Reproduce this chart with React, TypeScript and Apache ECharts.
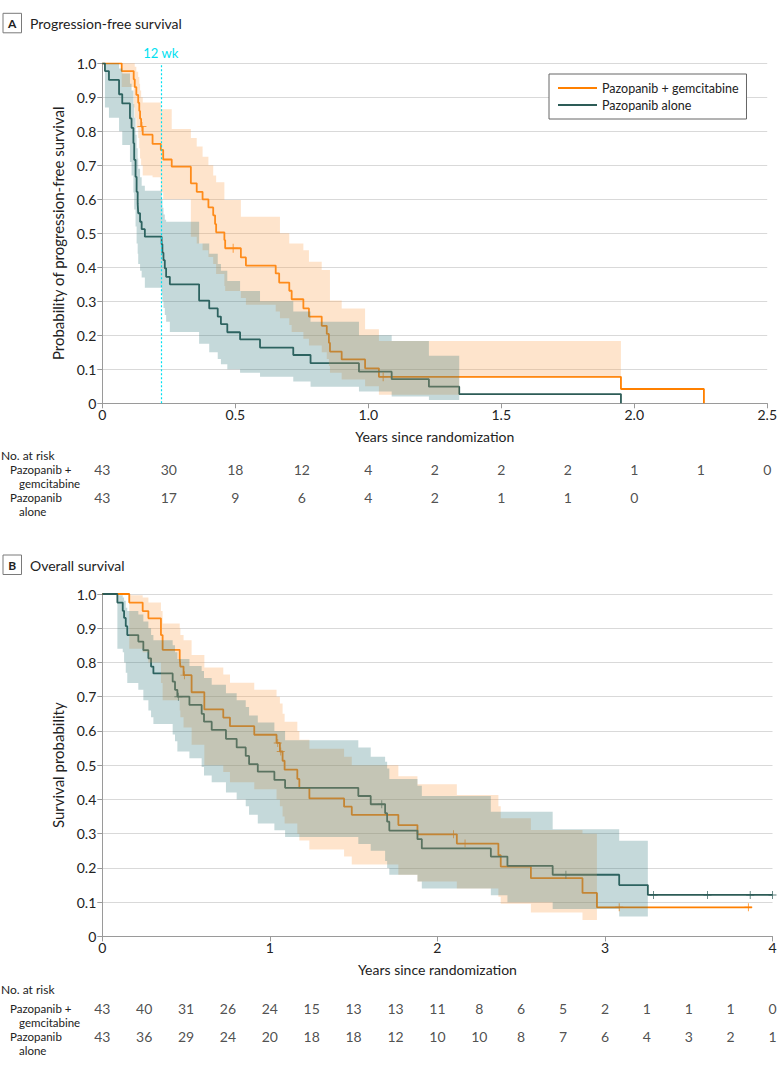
import React, { useEffect, useRef } from 'react';
import * as echarts from 'echarts';

const FONT = 'Lato, "Liberation Sans", sans-serif';
const ORANGE = '#ff8000';
const TEAL = '#2d5c57';
const ORANGE_BAND = 'rgba(252,165,85,0.30)';
const TEAL_BAND = 'rgba(48,119,123,0.28)';
const CYAN = '#00e0f0';
const TEXT = '#222222';
const AXIS = '#9a9a9a';
const GRIDLINE = '#d9d9d9';

const NAME_COMBO = 'Pazopanib + gemcitabine';
const NAME_ALONE = 'Pazopanib alone';
const WEEK12 = 0.222;

// ---------- Panel A: progression-free survival (years, survival) ----------
const pfsComboSteps = [
  [0, 1], [0.073, 0.977], [0.118, 0.953], [0.122, 0.93], [0.128, 0.907], [0.135, 0.884],
  [0.139, 0.86], [0.142, 0.837], [0.146, 0.814], [0.152, 0.79], [0.189, 0.763], [0.22, 0.745],
  [0.229, 0.717], [0.261, 0.696], [0.333, 0.647], [0.355, 0.622], [0.377, 0.6], [0.399, 0.576],
  [0.417, 0.553], [0.424, 0.527], [0.428, 0.503], [0.459, 0.48], [0.462, 0.456], [0.521, 0.429],
  [0.54, 0.405], [0.652, 0.382], [0.665, 0.355], [0.703, 0.331], [0.712, 0.306], [0.756, 0.279],
  [0.777, 0.255], [0.825, 0.228], [0.844, 0.204], [0.852, 0.178], [0.856, 0.152], [0.9, 0.129],
  [0.988, 0.103], [1.04, 0.078], [1.95, 0.042], [2.262, 0],
];
const pfsComboCensor = [0.149, 0.492, 1.056];

const pfsAloneSteps = [
  [0, 1], [0.01, 0.977], [0.025, 0.951], [0.063, 0.909], [0.075, 0.882], [0.104, 0.838],
  [0.11, 0.81], [0.117, 0.765], [0.12, 0.716], [0.125, 0.666], [0.129, 0.622], [0.133, 0.588],
  [0.135, 0.559], [0.142, 0.534], [0.148, 0.512], [0.16, 0.49], [0.223, 0.468], [0.226, 0.443],
  [0.23, 0.421], [0.235, 0.397], [0.24, 0.372], [0.254, 0.35], [0.364, 0.302], [0.402, 0.279],
  [0.434, 0.255], [0.446, 0.233], [0.47, 0.209], [0.518, 0.188], [0.593, 0.164], [0.718, 0.142],
  [0.783, 0.118], [0.965, 0.093], [1.088, 0.071], [1.228, 0.049], [1.342, 0.027], [1.95, 0],
];
const pfsAloneCensor: number[] = [];

// confidence bands: [start, lower, upper]
const pfsComboBand = [
  [0, 1, 1], [0.073, 0.93, 1.0], [0.118, 0.87, 1.0], [0.122, 0.84, 0.99], [0.128, 0.81, 0.975],
  [0.135, 0.78, 0.96], [0.139, 0.75, 0.94], [0.142, 0.72, 0.92], [0.146, 0.7, 0.9],
  [0.152, 0.67, 0.885], [0.189, 0.665, 0.885], [0.22, 0.62, 0.865], [0.229, 0.6, 0.865],
  [0.261, 0.6, 0.807], [0.333, 0.49, 0.78], [0.355, 0.47, 0.755], [0.377, 0.45, 0.725],
  [0.399, 0.43, 0.7], [0.417, 0.41, 0.67], [0.428, 0.38, 0.65], [0.459, 0.345, 0.598],
  [0.462, 0.33, 0.598], [0.521, 0.31, 0.549], [0.54, 0.29, 0.549], [0.652, 0.27, 0.549],
  [0.668, 0.25, 0.5], [0.703, 0.23, 0.47], [0.712, 0.21, 0.47], [0.756, 0.19, 0.45],
  [0.777, 0.17, 0.416], [0.825, 0.15, 0.392], [0.844, 0.13, 0.392], [0.852, 0.11, 0.392],
  [0.856, 0.09, 0.302], [0.9, 0.07, 0.279], [0.988, 0.05, 0.218], [1.04, 0.025, 0.183],
  [1.342, 0.078, 0.183],
];
const pfsComboBandEnd = 1.95;

const pfsAloneBand = [
  [0, 1, 1], [0.01, 0.87, 1.0], [0.025, 0.84, 1.0], [0.063, 0.8, 0.985], [0.075, 0.76, 0.97],
  [0.104, 0.71, 0.94], [0.11, 0.67, 0.92], [0.117, 0.62, 0.88], [0.12, 0.57, 0.84],
  [0.125, 0.52, 0.79], [0.129, 0.47, 0.75], [0.133, 0.44, 0.72], [0.135, 0.41, 0.69],
  [0.142, 0.39, 0.665], [0.148, 0.37, 0.64], [0.16, 0.34, 0.625], [0.223, 0.32, 0.6],
  [0.226, 0.3, 0.575], [0.23, 0.28, 0.555], [0.235, 0.26, 0.54], [0.24, 0.24, 0.534],
  [0.254, 0.21, 0.534], [0.364, 0.175, 0.47], [0.402, 0.15, 0.44], [0.434, 0.13, 0.41],
  [0.446, 0.115, 0.39], [0.47, 0.1, 0.36], [0.518, 0.09, 0.33], [0.593, 0.078, 0.3],
  [0.718, 0.064, 0.27], [0.783, 0.049, 0.24], [0.965, 0.035, 0.2], [1.088, 0.02, 0.183],
  [1.228, 0.01, 0.14],
];
const pfsAloneBandEnd = 1.342;

const riskTimesA = [0, 0.25, 0.5, 0.75, 1.0, 1.25, 1.5, 1.75, 2.0, 2.25, 2.5];
const riskComboA = [43, 30, 18, 12, 4, 2, 2, 2, 1, 1, 0];
const riskAloneA = [43, 17, 9, 6, 4, 2, 1, 1, 0];

// ---------- Panel B: overall survival ----------
const osComboSteps = [
  [0, 1], [0.161, 0.975], [0.241, 0.95], [0.275, 0.929], [0.35, 0.88], [0.36, 0.837],
  [0.462, 0.812], [0.466, 0.788], [0.485, 0.763], [0.533, 0.713], [0.609, 0.663], [0.722, 0.639],
  [0.762, 0.614], [0.907, 0.589], [1.04, 0.565], [1.06, 0.54], [1.076, 0.513], [1.088, 0.487],
  [1.164, 0.46], [1.176, 0.434], [1.236, 0.403], [1.443, 0.379], [1.489, 0.355], [1.767, 0.325],
  [1.881, 0.298], [2.116, 0.271], [2.364, 0.237], [2.378, 0.204], [2.558, 0.17], [2.866, 0.127],
  [2.952, 0.085], [3.877, 0.085],
];
const osComboCensor = [0.49, 1.047, 1.065, 2.096, 2.165, 3.085, 3.856];

const osAloneSteps = [
  [0, 1], [0.09, 0.975], [0.122, 0.951], [0.13, 0.93], [0.14, 0.906], [0.149, 0.88],
  [0.215, 0.861], [0.245, 0.836], [0.275, 0.812], [0.291, 0.788], [0.305, 0.768], [0.42, 0.744],
  [0.434, 0.72], [0.448, 0.7], [0.52, 0.676], [0.593, 0.65], [0.607, 0.627], [0.653, 0.603],
  [0.738, 0.577], [0.802, 0.552], [0.856, 0.527], [0.876, 0.503], [0.928, 0.481], [1.027, 0.457],
  [1.091, 0.434], [1.528, 0.41], [1.602, 0.386], [1.688, 0.36], [1.7, 0.335], [1.713, 0.309],
  [1.881, 0.284], [1.907, 0.257], [2.319, 0.233], [2.418, 0.206], [2.688, 0.18], [3.085, 0.15],
  [3.256, 0.121], [4.0, 0.121],
];
const osAloneCensor = [0.454, 1.668, 2.767, 3.29, 3.612, 3.867, 4.0];

const osComboBand = [
  [0, 1, 1], [0.161, 0.84, 0.996], [0.241, 0.83, 0.99], [0.275, 0.8, 0.975], [0.35, 0.74, 0.95],
  [0.36, 0.69, 0.914], [0.462, 0.66, 0.9], [0.466, 0.64, 0.88], [0.485, 0.61, 0.865],
  [0.533, 0.56, 0.822], [0.609, 0.5, 0.785], [0.722, 0.48, 0.765], [0.762, 0.45, 0.741],
  [0.907, 0.43, 0.72], [1.04, 0.4, 0.7], [1.06, 0.38, 0.68], [1.076, 0.35, 0.65],
  [1.088, 0.33, 0.627], [1.164, 0.3, 0.6], [1.176, 0.28, 0.574], [1.236, 0.254, 0.548],
  [1.443, 0.233, 0.525], [1.489, 0.21, 0.5], [1.767, 0.18, 0.468], [1.881, 0.16, 0.444],
  [2.116, 0.14, 0.413], [2.364, 0.116, 0.38], [2.378, 0.095, 0.345], [2.558, 0.07, 0.311],
  [2.866, 0.048, 0.3],
];
const osComboBandEnd = 2.952;

const osAloneBand = [
  [0, 1, 1], [0.09, 0.84, 0.996], [0.122, 0.83, 0.99], [0.13, 0.8, 0.98], [0.14, 0.77, 0.96],
  [0.149, 0.74, 0.95], [0.215, 0.72, 0.94], [0.245, 0.69, 0.92], [0.275, 0.66, 0.9],
  [0.291, 0.64, 0.88], [0.305, 0.62, 0.865], [0.42, 0.59, 0.85], [0.434, 0.57, 0.83],
  [0.448, 0.54, 0.81], [0.52, 0.52, 0.79], [0.593, 0.495, 0.775], [0.607, 0.47, 0.755],
  [0.653, 0.45, 0.735], [0.738, 0.42, 0.71], [0.802, 0.4, 0.69], [0.856, 0.38, 0.67],
  [0.876, 0.355, 0.645], [0.928, 0.33, 0.625], [1.027, 0.31, 0.6], [1.091, 0.29, 0.573],
  [1.528, 0.27, 0.552], [1.602, 0.25, 0.525], [1.688, 0.22, 0.51], [1.7, 0.2, 0.49],
  [1.713, 0.18, 0.46], [1.881, 0.16, 0.44], [1.907, 0.14, 0.41], [2.319, 0.12, 0.364],
  [2.418, 0.1, 0.364], [2.688, 0.08, 0.313], [3.085, 0.058, 0.279],
];
const osAloneBandEnd = 3.256;

const riskTimesB = [0, 0.25, 0.5, 0.75, 1, 1.25, 1.5, 1.75, 2, 2.25, 2.5, 2.75, 3, 3.25, 3.5, 3.75, 4];
const riskComboB = [43, 40, 31, 26, 24, 15, 13, 13, 11, 8, 6, 5, 2, 1, 1, 1, 0];
const riskAloneB = [43, 36, 29, 24, 20, 18, 18, 12, 10, 10, 8, 7, 6, 4, 3, 2, 1];

// ---------- helpers ----------
function buildSteps(steps: number[][]) {
  const out: number[][] = [];
  for (let i = 0; i < steps.length; i++) {
    out.push([steps[i][0], steps[i][1]]);
    if (i + 1 < steps.length) out.push([steps[i + 1][0], steps[i][1]]);
  }
  return out;
}
function survAt(steps: number[][], t: number) {
  let s = steps[0][1];
  for (const [ti, si] of steps) {
    if (ti <= t) s = si;
    else break;
  }
  return s;
}
function bandRows(band: number[][], end: number) {
  return band.map((r, i) => [r[0], i + 1 < band.length ? band[i + 1][0] : end, r[1], r[2]]);
}

const PLUS = 'path://M4,0H5V4H9V5H5V9H4V5H0V4H4Z';
const FS = 14;

function lineSeries(name: string, steps: number[][], color: string, idx: number) {
  return {
    type: 'line', name, xAxisIndex: idx, yAxisIndex: idx, z: 2,
    data: buildSteps(steps), symbol: 'none', showSymbol: false,
    lineStyle: { color, width: 1.8 }, itemStyle: { color },
    silent: true,
  };
}
function censorSeries(name: string, steps: number[][], times: number[], color: string, idx: number, size: number) {
  return {
    type: 'scatter', name, xAxisIndex: idx, yAxisIndex: idx, z: 2,
    symbol: PLUS, symbolSize: size, itemStyle: { color }, silent: true,
    data: times.map((t) => [t, survAt(steps, t)]),
  };
}
function bandSeries(id: string, band: number[][], end: number, color: string, idx: number, z: number) {
  const rows = bandRows(band, end);
  return {
    type: 'custom', id, xAxisIndex: idx, yAxisIndex: idx, z, silent: true, clip: false,
    data: rows, encode: { x: [0, 1], y: [2, 3] },
    renderItem: (params: any, api: any) => {
      if (params.dataIndex !== 0) return null;
      const top: number[][] = [];
      const bot: number[][] = [];
      rows.forEach((r) => {
        top.push(api.coord([r[0], r[3]]), api.coord([r[1], r[3]]));
        bot.push(api.coord([r[0], r[2]]), api.coord([r[1], r[2]]));
      });
      return { type: 'polygon', shape: { points: top.concat(bot.reverse()) }, style: { fill: color, stroke: null } };
    },
  };
}
function riskSeries(times: number[], combo: number[], alone: number[], idx: number) {
  const data: number[][] = [];
  combo.forEach((n, i) => data.push([times[i], 1, n]));
  alone.forEach((n, i) => data.push([times[i], 0, n]));
  return {
    type: 'scatter', xAxisIndex: idx, yAxisIndex: idx, symbolSize: 1, silent: true,
    itemStyle: { color: 'rgba(0,0,0,0)' },
    label: { show: true, position: 'inside', formatter: (p: any) => String(p.value[2]), fontFamily: FONT, fontSize: FS, color: TEXT },
    data,
  };
}

const fmt1 = (v: number) => (v === 0 ? '0' : v.toFixed(1));

function valueAxisX(idx: number, max: number, interval: number, formatter: any) {
  return {
    type: 'value', gridIndex: idx, min: 0, max, interval,
    axisLine: { show: true, onZero: false, lineStyle: { color: AXIS, width: 1 } },
    axisTick: { show: true, length: 5, lineStyle: { color: AXIS } },
    axisLabel: { margin: 4, formatter, fontFamily: FONT, fontSize: FS, color: TEXT },
    splitLine: { show: false },
    name: 'Years since randomization', nameLocation: 'middle', nameGap: 26,
    nameTextStyle: { fontFamily: FONT, fontSize: FS, color: TEXT },
  };
}
function valueAxisY(idx: number, name: string) {
  return {
    type: 'value', gridIndex: idx, min: 0, max: 1, interval: 0.1,
    axisLine: { show: true, onZero: false, lineStyle: { color: AXIS, width: 1 } },
    axisTick: { show: true, length: 5, lineStyle: { color: AXIS } },
    axisLabel: { margin: 6, formatter: fmt1, fontFamily: FONT, fontSize: FS, color: TEXT },
    splitLine: { show: true, lineStyle: { color: GRIDLINE, width: 1 } },
    name, nameLocation: 'middle', nameGap: 30,
    nameTextStyle: { fontFamily: FONT, fontSize: 15, color: TEXT },
  };
}

function txt(text: string, x: number, y: number, extra: any = {}) {
  return {
    type: 'text', x, y, silent: true,
    style: { text, fill: TEXT, fontFamily: FONT, fontSize: FS, verticalAlign: 'middle', align: 'left', ...extra },
  };
}
function panelLabel(letter: string, title: string, cy: number) {
  return [
    { type: 'rect', silent: true, shape: { x: 3, y: cy - 10, width: 18.5, height: 19.5 }, style: { fill: '#fff', stroke: '#7a7a7a', lineWidth: 1 } },
    txt(letter, 12.25, cy, { align: 'center', fontWeight: 'bold', fontSize: 12 }),
    txt(title, 30, cy, { fontSize: 14 }),
  ];
}
function riskLabels(y0: number, r1: number) {
  const s = { fontSize: 11.5 };
  return [
    txt('No. at risk', 1, y0, { fontSize: 12 }),
    txt('Pazopanib +', 10, r1, s),
    txt('gemcitabine', 19, r1 + 14, s),
    txt('Pazopanib', 10, r1 + 28, s),
    txt('alone', 19, r1 + 42, s),
  ];
}

export default function App() {
  const ref = useRef<HTMLDivElement>(null);
  useEffect(() => {
    if (!ref.current) return;
    const chart = echarts.init(ref.current, undefined, { renderer: 'svg' });
    const option: any = {
      animation: false,
      backgroundColor: '#ffffff',
      grid: [
        { left: 102.3, top: 63.3, width: 665, height: 340 },
        { left: 102.3, top: 594, width: 670.2, height: 342.4 },
        { left: 102.3, top: 469, width: 665, height: 28 },
        { left: 102.3, top: 1008, width: 670.2, height: 28 },
      ],
      xAxis: [
        valueAxisX(0, 2.5, 0.5, fmt1),
        valueAxisX(1, 4, 1, (v: number) => String(v)),
        { type: 'value', gridIndex: 2, min: 0, max: 2.5, show: false },
        { type: 'value', gridIndex: 3, min: 0, max: 4, show: false },
      ],
      yAxis: [
        valueAxisY(0, 'Probability of progression-free survival'),
        valueAxisY(1, 'Survival probability'),
        { type: 'value', gridIndex: 2, min: 0, max: 1, show: false },
        { type: 'value', gridIndex: 3, min: 0, max: 1, show: false },
      ],
      legend: {
        show: true, data: [NAME_COMBO, NAME_ALONE], left: 549, top: 74, orient: 'vertical',
        itemWidth: 39, itemHeight: 2, itemGap: 1, padding: [6, 8, 6, 9], icon: 'rect',
        borderColor: '#666', borderWidth: 1, backgroundColor: '#fff', selectedMode: false,
        textStyle: { fontFamily: FONT, fontSize: 12.5, color: TEXT, lineHeight: 16 },
      },
      graphic: [
        ...panelLabel('A', 'Progression-free survival', 23.3),
        ...panelLabel('B', 'Overall survival', 565),
        ...riskLabels(455, 469),
        ...riskLabels(989, 1008),
      ],
      series: [
        lineSeries(NAME_COMBO, pfsComboSteps, ORANGE, 0),
        lineSeries(NAME_ALONE, pfsAloneSteps, TEAL, 0),
        censorSeries(NAME_COMBO, pfsComboSteps, pfsComboCensor, ORANGE, 0, 9),
        censorSeries(NAME_ALONE, pfsAloneSteps, pfsAloneCensor, TEAL, 0, 9),
        bandSeries('bandA1', pfsComboBand, pfsComboBandEnd, ORANGE_BAND, 0, 3),
        bandSeries('bandA2', pfsAloneBand, pfsAloneBandEnd, TEAL_BAND, 0, 4),
        {
          type: 'line', name: '12wk', xAxisIndex: 0, yAxisIndex: 0, z: 10, data: [[WEEK12, 0]],
          symbol: 'none', silent: true, lineStyle: { width: 0, color: CYAN }, itemStyle: { color: CYAN },
          markLine: {
            silent: true, symbol: ['none', 'none'], animation: false,
            itemStyle: { color: CYAN },
            lineStyle: { color: CYAN, type: [2, 2], width: 1.2, opacity: 1 },
            label: { show: true, position: 'end', formatter: '12 wk', color: CYAN, fontFamily: FONT, fontSize: 13, distance: 4 },
            data: [{ xAxis: WEEK12, lineStyle: { color: CYAN } }],
          },
        },
        lineSeries(NAME_COMBO, osComboSteps, ORANGE, 1),
        lineSeries(NAME_ALONE, osAloneSteps, TEAL, 1),
        censorSeries(NAME_COMBO, osComboSteps, osComboCensor, ORANGE, 1, 8),
        censorSeries(NAME_ALONE, osAloneSteps, osAloneCensor, TEAL, 1, 8),
        bandSeries('bandB1', osComboBand, osComboBandEnd, ORANGE_BAND, 1, 3),
        bandSeries('bandB2', osAloneBand, osAloneBandEnd, TEAL_BAND, 1, 4),
        riskSeries(riskTimesA, riskComboA, riskAloneA, 2),
        riskSeries(riskTimesB, riskComboB, riskAloneB, 3),
      ],
    };
    chart.setOption(option);
    return () => chart.dispose();
  }, []);
  return <div ref={ref} style={{ position: 'absolute', left: 0, top: 0, width: 780, height: 1068 }} />;
}
